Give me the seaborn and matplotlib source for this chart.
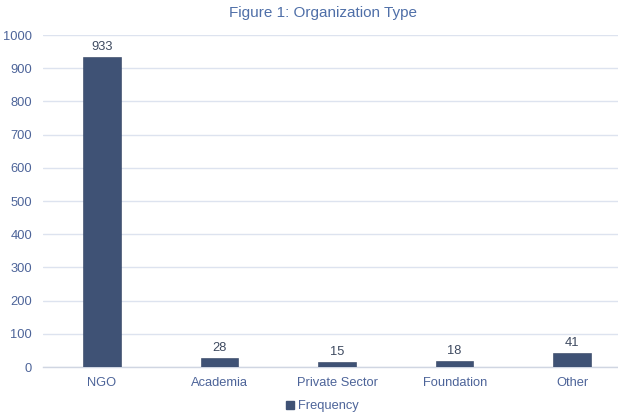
import matplotlib
matplotlib.use("Agg")
import matplotlib.pyplot as plt
import seaborn as sns
import pandas as pd
from matplotlib.patches import Patch

categories = ["NGO", "Academia", "Private Sector", "Foundation", "Other"]
frequency = [933, 28, 15, 18, 41]
yticks = [0, 100, 200, 300, 400, 500, 600, 700, 800, 900, 1000]

sns.set_theme(style="white")
plt.rcParams['font.family'] = ['Liberation Sans', 'DejaVu Sans']

bar_color = "#3f5275"
tick_color = "#4d6499"
title_color = "#4f6fa8"
label_color = "#3e4a60"
grid_color = "#dde3ef"

df = pd.DataFrame({"Organization": categories, "Frequency": frequency})

fig = plt.figure(figsize=(6.18, 4.18), dpi=100)
ax = fig.add_axes([0.0700, 0.122, 0.951, 0.794])
sns.barplot(data=df, x="Organization", y="Frequency", color=bar_color,
            width=0.32, saturation=1, ax=ax, zorder=3)
for p in ax.patches:
    p.set_edgecolor("#2f3f5f")
    p.set_linewidth(0.4)

ax.set_ylim(0, 1000)
ax.set_yticks(yticks)
ax.set_yticklabels([str(t) for t in yticks])
ax.set_xlim(-0.5, len(categories) - 0.5)
ax.yaxis.grid(True, color=grid_color, linewidth=1, zorder=0)
ax.set_axisbelow(True)
for s in ["top", "right", "left"]:
    ax.spines[s].set_visible(False)
ax.spines["bottom"].set_color("#d0d6e2")
ax.spines["bottom"].set_linewidth(1)
ax.tick_params(axis="both", length=0, labelsize=9.3, colors=tick_color)
ax.tick_params(axis="x", pad=7.5)
ax.tick_params(axis="y", pad=8)
ax.set_xlabel("")
ax.set_ylabel("")

for i, v in enumerate(frequency):
    ax.text(i, v + 12, str(v), ha="center", va="bottom", fontsize=9.3, color=label_color)

fig.text(0.522, 0.968, "Figure 1: Organization Type", ha="center", va="center",
         fontsize=11, color=title_color)

handle = Patch(facecolor=bar_color, edgecolor=bar_color)
fig.legend([handle], ["Frequency"], loc="center", bbox_to_anchor=(0.522, 0.028),
           frameon=False, fontsize=9.3, handlelength=0.6, handleheight=0.6,
           handletextpad=0.3, labelcolor=tick_color)

fig.savefig("out.png", dpi=100)
